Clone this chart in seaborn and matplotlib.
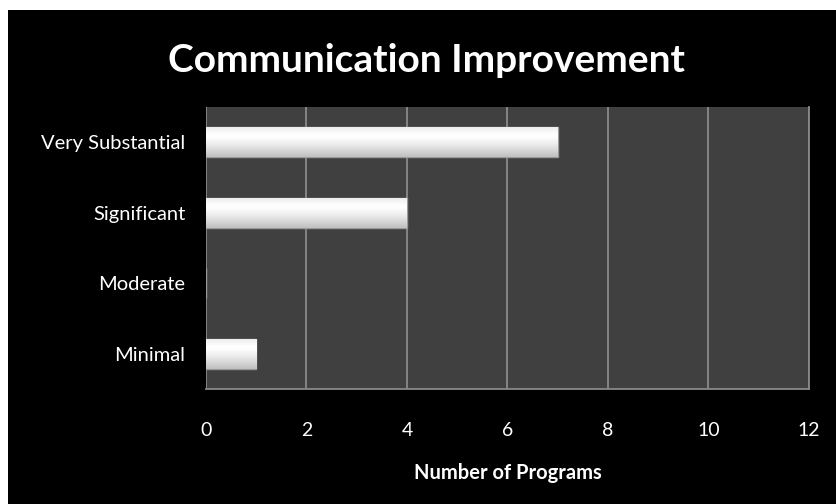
import numpy as np
import pandas as pd
import matplotlib
matplotlib.use("Agg")
import matplotlib.pyplot as plt
from matplotlib.patches import Rectangle
import seaborn as sns

# chart data
categories = ["Very Substantial", "Significant", "Moderate", "Minimal"]
programs = [7, 4, 0, 1]
x_ticks = [0, 2, 4, 6, 8, 10, 12]

df = pd.DataFrame({"Improvement": categories, "Programs": programs})

sns.set_style("dark")
plt.rcParams["font.family"] = ["Lato", "DejaVu Sans"]

fig = plt.figure(figsize=(8.37, 5.04), dpi=100)
fig.patch.set_facecolor("white")
# black slide background
fig.patches.append(Rectangle((8 / 837, 0), 828 / 837, 494 / 504, transform=fig.transFigure,
                             facecolor="black", edgecolor="none", zorder=-10))

ax = fig.add_axes([206 / 837, 1 - 389 / 504, (809 - 206) / 837, (389 - 107) / 504])
ax.set_facecolor("#404040")

sns.barplot(data=df, x="Programs", y="Improvement", order=categories, color="white",
            width=0.43, edgecolor="#9a9a9a", linewidth=1.0, ax=ax, zorder=3)

# soft vertical shading on each bar to mimic the bevelled look
grad = np.linspace(0, 1, 64).reshape(-1, 1)
grad = 1 - 0.4 * np.abs(grad - 0.3) ** 1.3
for p in ax.patches:
    w = p.get_width()
    if w <= 0:
        continue
    x0, y0, h = p.get_x(), p.get_y(), p.get_height()
    im = ax.imshow(grad, cmap="gray", vmin=0, vmax=1, aspect="auto",
                   extent=(x0, x0 + w, y0 + h, y0), zorder=4, interpolation="bicubic")
    im.set_clip_path(p)

ax.set_xlim(0, 12)
ax.set_ylim(3.5, -0.5)
ax.set_xticks(x_ticks)
ax.grid(axis="x", color="#8a8a8a", linewidth=1.3, zorder=1)
ax.grid(axis="y", visible=False)
ax.set_axisbelow(True)

for s in ["top", "left"]:
    ax.spines[s].set_visible(False)
ax.spines["bottom"].set_color("#8a8a8a")
ax.spines["bottom"].set_linewidth(1.3)
ax.spines["right"].set_color("#8a8a8a")
ax.spines["right"].set_linewidth(1.3)

ax.tick_params(axis="x", colors="#8a8a8a", length=7, width=1.3, labelcolor="white",
               labelsize=14, pad=17)
ax.tick_params(axis="y", length=0, labelcolor="white", labelsize=14.5, pad=15)

ax.set_xlabel("Number of Programs", color="white", fontsize=14.5, fontweight="bold", labelpad=17)
ax.set_ylabel("")

fig.text(427 / 837, 1 - 60 / 504, "Communication Improvement", color="white",
         fontsize=28, fontweight="bold", ha="center", va="center")

fig.savefig("out.png", dpi=100, facecolor=fig.get_facecolor())
